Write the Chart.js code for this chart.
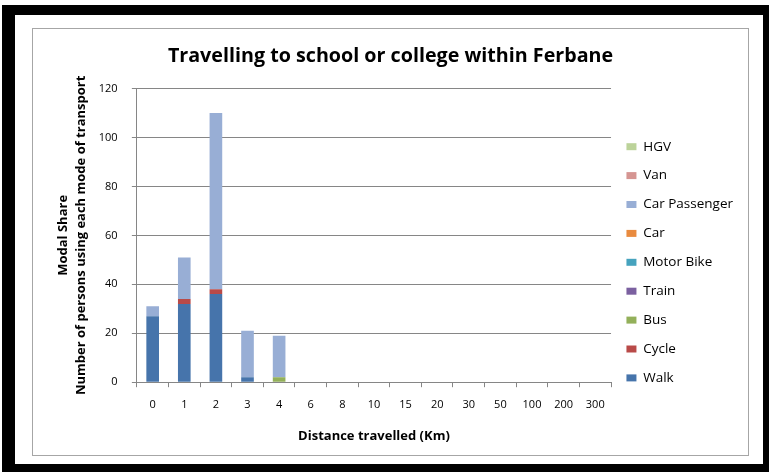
<!DOCTYPE html>
<html>
<head>
<meta charset="utf-8">
<script src="https://cdn.jsdelivr.net/npm/chart.js@4/dist/chart.umd.min.js"></script>
<style>
    html, body { margin: 0; padding: 0; background: #fff; }
    #frame {
        position: absolute; left: 2px; top: 5px; width: 767px; height: 467px;
        box-sizing: border-box; border-style: solid; border-color: #000;
        border-width: 10px 6px 8px 13px;
    }
    #box {
        position: absolute; left: 32px; top: 28px; width: 717px; height: 428px;
        box-sizing: border-box; border: 1px solid #a6a6a6;
    }
    #chart { position: absolute; left: 32px; top: 28px; }
</style>
</head>
<body>
<div id="frame"></div>
<div id="box"></div>
<canvas id="chart" width="717" height="428"></canvas>
<script>
// 距離（km）
const distances = ['0', '1', '2', '3', '4', '6', '8', '10', '15', '20', '30', '50', '100', '200', '300'];

// 交通手段ごとの人数
const walk         = [27, 32, 36, 2, 0, 0, 0, 0, 0, 0, 0, 0, 0, 0, 0];
const cycle        = [0, 2, 2, 0, 0, 0, 0, 0, 0, 0, 0, 0, 0, 0, 0];
const bus          = [0, 0, 0, 0, 2, 0, 0, 0, 0, 0, 0, 0, 0, 0, 0];
const train        = [0, 0, 0, 0, 0, 0, 0, 0, 0, 0, 0, 0, 0, 0, 0];
const motorBike    = [0, 0, 0, 0, 0, 0, 0, 0, 0, 0, 0, 0, 0, 0, 0];
const car          = [0, 0, 0, 0, 0, 0, 0, 0, 0, 0, 0, 0, 0, 0, 0];
const carPassenger = [4, 17, 72, 19, 17, 0, 0, 0, 0, 0, 0, 0, 0, 0, 0];
const van          = [0, 0, 0, 0, 0, 0, 0, 0, 0, 0, 0, 0, 0, 0, 0];
const hgv          = [0, 0, 0, 0, 0, 0, 0, 0, 0, 0, 0, 0, 0, 0, 0];

const yMin = 0;
const yMax = 120;
const yStep = 20;

const fontFamily = '"Open Sans", sans-serif';
const gridColor = '#868686';

const series = [
    { label: 'Walk', data: walk, color: '#4674ab' },
    { label: 'Cycle', data: cycle, color: '#b94a48' },
    { label: 'Bus', data: bus, color: '#93b05a' },
    { label: 'Train', data: train, color: '#7b60a0' },
    { label: 'Motor Bike', data: motorBike, color: '#46a3be' },
    { label: 'Car', data: car, color: '#e98b3f' },
    { label: 'Car Passenger', data: carPassenger, color: '#98aed5' },
    { label: 'Van', data: van, color: '#d59592' },
    { label: 'HGV', data: hgv, color: '#bcd39a' },
];

const ctx = document.getElementById('chart');

const chart = new Chart(ctx, {
    type: 'bar',
    data: {
        labels: distances,
        datasets: series.map(s => ({
            label: s.label,
            data: s.data,
            backgroundColor: s.color,
            borderWidth: 0,
            categoryPercentage: 1,
            barPercentage: 0.4,
        }))
    },
    options: {
        responsive: false,
        animation: false,
        layout: {
            padding: { left: 6, right: 6, top: 0, bottom: 10 }
        },
        scales: {
            x: {
                stacked: true,
                grid: {
                    display: true,
                    drawOnChartArea: false,
                    drawTicks: true,
                    tickLength: 5,
                    color: gridColor,
                },
                border: { color: gridColor },
                ticks: {
                    padding: 11,
                    color: '#000',
                    font: { family: fontFamily, size: 11 },
                    maxRotation: 0,
                    autoSkip: false,
                },
                title: {
                    display: true,
                    text: 'Distance travelled (Km)',
                    color: '#000',
                    font: { family: fontFamily, size: 13, weight: 'bold' },
                    padding: { top: 6, bottom: 2 },
                },
            },
            y: {
                stacked: true,
                min: yMin,
                max: yMax,
                grid: {
                    color: gridColor,
                    drawTicks: true,
                    tickLength: 5,
                },
                border: { color: gridColor },
                ticks: {
                    stepSize: yStep,
                    padding: 14.3,
                    color: '#000',
                    font: { family: fontFamily, size: 11 },
                },
                title: {
                    display: true,
                    text: ['Modal Share', 'Number of persons using each mode of transport'],
                    color: '#000',
                    font: { family: fontFamily, size: 13, weight: 'bold', lineHeight: 1.4 },
                    padding: { top: 16, bottom: -6 },
                },
            },
        },
        plugins: {
            title: {
                display: true,
                text: 'Travelling to school or college within Ferbane',
                color: '#000',
                font: { family: fontFamily, size: 19.7, weight: 'bold' },
                padding: { top: 16.5, bottom: 20.4 },
            },
            legend: {
                position: 'right',
                reverse: true,
                title: {
                    display: true,
                    text: '',
                    font: { size: 12 },
                    padding: { top: 18.1, bottom: 18.1 },
                },
                labels: {
                    boxWidth: 10,
                    boxHeight: 7,
                    padding: 15.4,
                    color: '#000',
                    font: { family: fontFamily, size: 13.5 },
                },
            },
            tooltip: { enabled: false },
        },
    }
});
</script>
</body>
</html>
